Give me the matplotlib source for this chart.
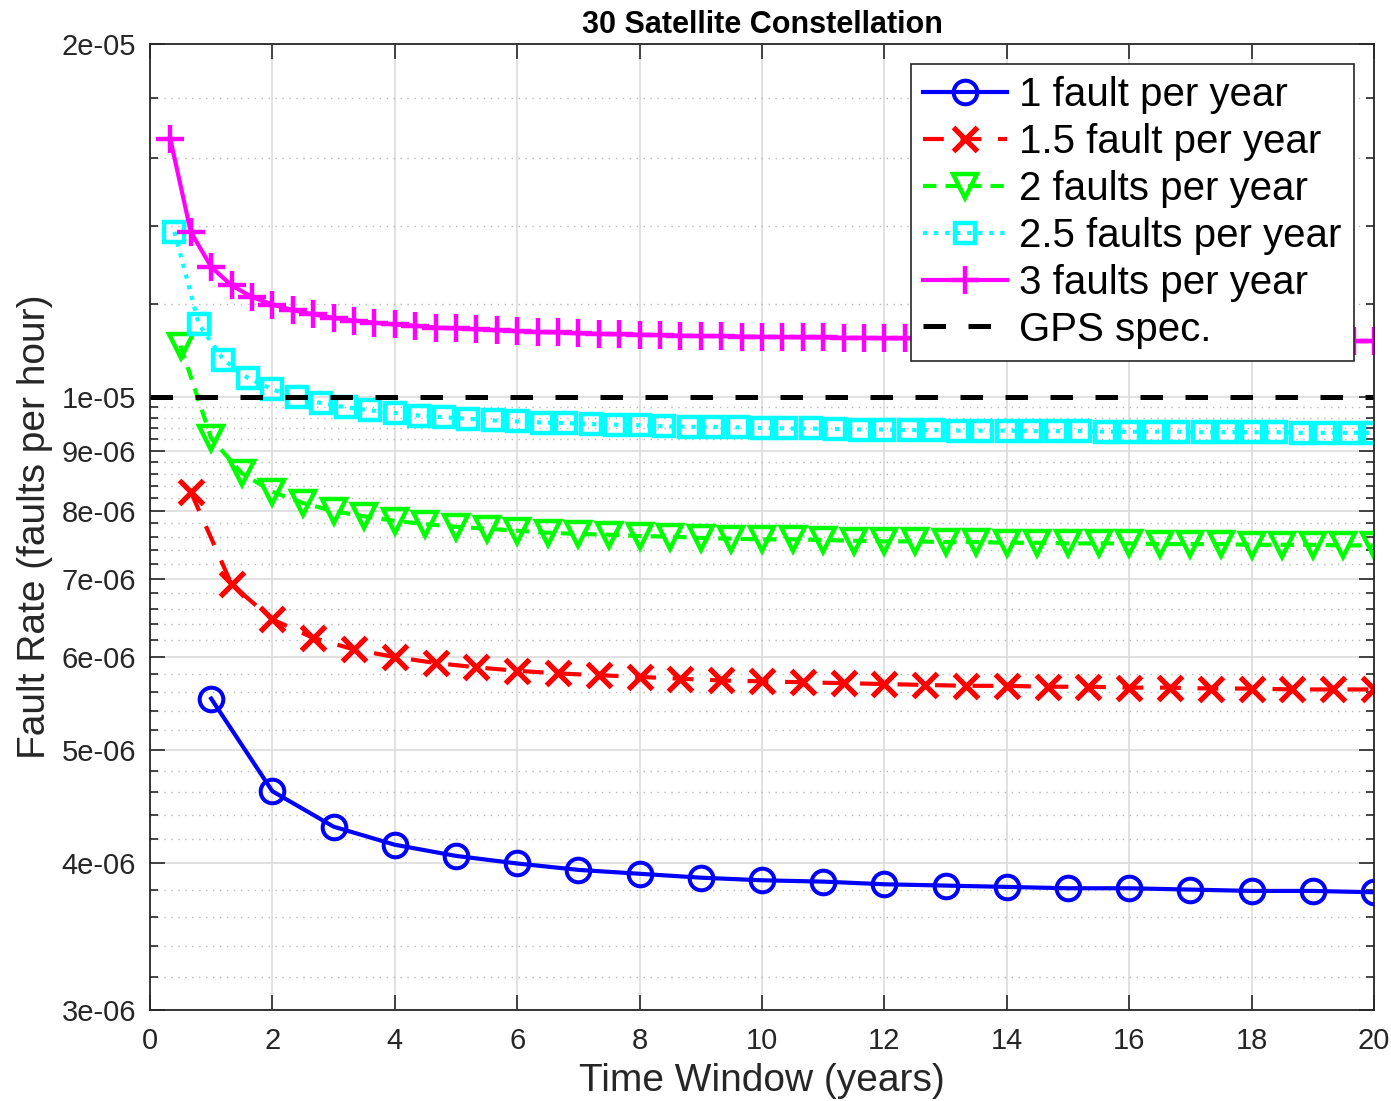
import numpy as np
import matplotlib
matplotlib.use("Agg")
import matplotlib.pyplot as plt
from matplotlib.ticker import FixedLocator, FuncFormatter, NullFormatter

plt.rcParams['font.family'] = ['Liberation Sans', 'DejaVu Sans']

# fault rate values, in units of 1e-6 faults per hour
x_1 = np.arange(1, 21) * 1.0
rate_1 = [5.53, 4.61, 4.30, 4.15, 4.06, 4.00, 3.95, 3.92, 3.89, 3.87,
          3.86, 3.84, 3.83, 3.82, 3.81, 3.81, 3.80, 3.79, 3.79, 3.78]

x_15 = np.arange(1, 31) * 2.0 / 3.0
rate_15 = [8.30, 6.92, 6.46, 6.23, 6.09, 6.00, 5.93, 5.88, 5.84, 5.81,
           5.79, 5.77, 5.75, 5.73, 5.72, 5.71, 5.70, 5.69, 5.68, 5.67,
           5.67, 5.66, 5.66, 5.65, 5.65, 5.64, 5.64, 5.63, 5.63, 5.63]

x_2 = np.arange(1, 41) * 0.5
rate_2 = [11.06, 9.22, 8.61, 8.30, 8.12, 7.99, 7.91, 7.84, 7.79, 7.75,
          7.72, 7.69, 7.66, 7.64, 7.63, 7.61, 7.60, 7.58, 7.57, 7.56,
          7.56, 7.55, 7.54, 7.53, 7.53, 7.52, 7.52, 7.51, 7.51, 7.50,
          7.50, 7.50, 7.49, 7.49, 7.49, 7.48, 7.48, 7.48, 7.47, 7.47]

x_25 = np.arange(1, 51) * 0.4
rate_25 = [13.83, 11.53, 10.76, 10.38, 10.15, 9.99, 9.88, 9.80, 9.74, 9.69,
           9.64, 9.61, 9.58, 9.55, 9.53, 9.51, 9.50, 9.48, 9.47, 9.46,
           9.44, 9.43, 9.43, 9.42, 9.41, 9.40, 9.40, 9.39, 9.38, 9.38,
           9.37, 9.37, 9.36, 9.36, 9.36, 9.35, 9.35, 9.35, 9.34, 9.34,
           9.34, 9.34, 9.33, 9.33, 9.33, 9.33, 9.32, 9.32, 9.32, 9.32]

x_3 = np.arange(1, 61) / 3.0
rate_3 = [16.59, 13.83, 12.91, 12.45, 12.17, 11.99, 11.86, 11.76, 11.68, 11.62,
          11.57, 11.53, 11.50, 11.46, 11.44, 11.42, 11.40, 11.38, 11.36, 11.35,
          11.33, 11.32, 11.31, 11.30, 11.29, 11.28, 11.27, 11.27, 11.26, 11.25,
          11.25, 11.24, 11.24, 11.23, 11.23, 11.22, 11.22, 11.22, 11.21, 11.21,
          11.21, 11.20, 11.20, 11.20, 11.19, 11.19, 11.19, 11.19, 11.18, 11.18,
          11.18, 11.18, 11.17, 11.17, 11.17, 11.17, 11.17, 11.17, 11.16, 11.16]

gps_spec = 1e-5
labels = ['1 fault per year', '1.5 fault per year', '2 faults per year',
          '2.5 faults per year', '3 faults per year', 'GPS spec.']

fig = plt.figure(figsize=(13.91, 11.01), dpi=100)
ax = fig.add_axes([0.1078, 0.0827, 0.8800, 0.8773])

lw = 3.0
ms = 17
mew = 2.9
ax.plot(x_1, np.array(rate_1) * 1e-6, color='#0000ff', ls='-', lw=lw,
        marker='o', ms=ms, mfc='none', mew=mew, label=labels[0])
ax.plot(x_15, np.array(rate_15) * 1e-6, color='#ff0000', lw=lw, dashes=(5, 4),
        marker='x', ms=ms, mew=lw + 0.8, label=labels[1])
ax.plot(x_2, np.array(rate_2) * 1e-6, color='#00ff00', lw=lw, dashes=(3.2, 2.2),
        marker='v', ms=ms, mfc='none', mew=mew + 0.3, label=labels[2])
ax.plot(x_25, np.array(rate_25) * 1e-6, color='#00ffff', lw=lw, ls=':',
        marker='s', ms=ms - 2, mfc='none', mew=mew + 0.3, label=labels[3])
ax.plot(x_3, np.array(rate_3) * 1e-6, color='#ff00ff', ls='-', lw=lw,
        marker='+', ms=ms + 3, mew=mew + 0.3, label=labels[4])
ax.axhline(gps_spec, color='black', lw=lw + 0.6, dashes=(4.5, 4.5), label=labels[5])

ax.set_yscale('log')
ax.set_xlim(0, 20)
ax.set_ylim(3e-6, 2e-5)

major_y = [3e-6, 4e-6, 5e-6, 6e-6, 7e-6, 8e-6, 9e-6, 1e-5, 2e-5]
minor_y = [v * 1e-7 for v in range(30, 100, 2) if v % 10 != 0] + \
          [v * 1e-6 for v in range(12, 20, 2)]
ax.yaxis.set_major_locator(FixedLocator(major_y))
ax.yaxis.set_minor_locator(FixedLocator(minor_y))
ax.yaxis.set_major_formatter(FuncFormatter(lambda v, p: '{:.0e}'.format(v)))
ax.yaxis.set_minor_formatter(NullFormatter())
ax.set_xticks(np.arange(0, 21, 2))

ax.tick_params(axis='both', which='both', direction='in', top=True, right=True,
               labelsize=21, colors='#262626', width=1.2)
ax.tick_params(axis='both', which='major', length=11)
ax.tick_params(axis='x', which='major', pad=12)
ax.tick_params(axis='y', which='major', pad=10)
ax.tick_params(axis='y', which='minor', length=6)
for sp in ax.spines.values():
    sp.set_linewidth(1.3)
    sp.set_color('#262626')

ax.grid(True, which='major', color='#dcdcdc', lw=1.2)
ax.grid(True, which='minor', axis='y', color='#b8b8b8', lw=1.0, ls=(0, (1, 4)))
ax.set_axisbelow(True)

ax.set_title('30 Satellite Constellation', fontsize=22, fontweight='bold', pad=8)
ax.set_xlabel('Time Window (years)', fontsize=28, color='#262626', labelpad=6)
ax.set_ylabel('Fault Rate (faults per hour)', fontsize=28, color='#262626')
ax.yaxis.set_label_coords(-0.079, 0.5)

leg = ax.legend(loc='upper right', fontsize=29, frameon=True, fancybox=False,
                edgecolor='#262626', framealpha=1, borderaxespad=0.5,
                handlelength=2.1, handletextpad=0.3, labelspacing=0.22,
                borderpad=0.3)
leg.get_frame().set_linewidth(1.2)

fig.savefig('out.png', dpi=100)
